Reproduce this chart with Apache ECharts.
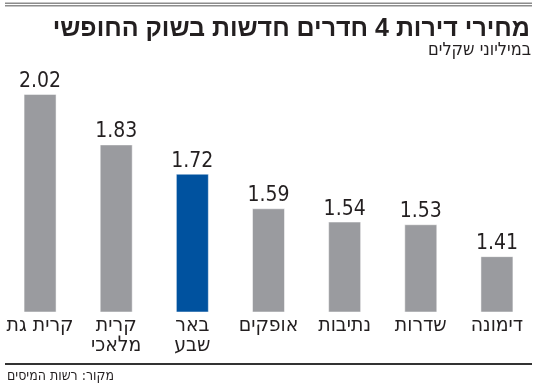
<!DOCTYPE html>
<html>
<head>
<meta charset="utf-8">
<script src="https://cdn.jsdelivr.net/npm/echarts@6/dist/echarts.min.js"></script>
<style>
html,body{margin:0;padding:0;background:#fff;}
#chart{width:550px;height:391px;}
</style>
</head>
<body>
<div id="chart"></div>
<script>
var categories = ['קרית גת', 'קרית\nמלאכי', 'באר\nשבע', 'אופקים', 'נתיבות', 'שדרות', 'דימונה'];
var values = [2.02, 1.83, 1.72, 1.59, 1.54, 1.53, 1.41];
var highlightIndex = 2;
var titleText = 'מחירי דירות 4 חדרים חדשות בשוק החופשי';
var subtitleText = 'במיליוני שקלים';
var sourceText = 'מקור: רשות המיסים';

var NARROW = "'Liberation Sans Narrow', 'DejaVu Sans Condensed', sans-serif";
var GRAY = '#9a9b9f';
var BLUE = '#00529f';
var INK = '#231f20';

var chart = echarts.init(document.getElementById('chart'), null, {renderer: 'canvas'});
chart.setOption({
  animation: false,
  backgroundColor: '#fff',
  grid: {left: 2, right: 15, top: 46, bottom: 79, containLabel: false},
  xAxis: {
    type: 'category',
    data: categories,
    axisLine: {show: false},
    axisTick: {show: false},
    axisLabel: {
      interval: 0, margin: 4, color: INK,
      fontFamily: NARROW, fontSize: 21, lineHeight: 20, verticalAlign: 'top'
    }
  },
  yAxis: {
    type: 'value', min: 1.2, max: 2.2, show: false,
    splitLine: {show: false}
  },
  series: [{
    type: 'bar',
    barWidth: 33,
    data: values.map(function (v, i) {
      return {value: v, itemStyle: {color: i === highlightIndex ? BLUE : GRAY}};
    }),
    itemStyle: {borderColor: 'rgba(255,255,255,0.5)', borderWidth: 1},
    label: {
      show: true, position: 'top', distance: 2, color: INK,
      fontFamily: NARROW, fontSize: 21,
      formatter: function (p) { return p.value.toFixed(2); }
    }
  }],
  graphic: [
    {type: 'rect', shape: {x: 5, y: 2.5, width: 527, height: 1.5}, style: {fill: '#8c8c8c'}},
    {type: 'rect', shape: {x: 5, y: 5, width: 527, height: 1.5}, style: {fill: '#8c8c8c'}},
    {type: 'text', x: 530, y: 29, style: {text: titleText, fill: INK, font: "bold 25px 'Liberation Sans', sans-serif", textAlign: 'right', textVerticalAlign: 'middle'}},
    {type: 'text', x: 531, y: 50, style: {text: subtitleText, fill: INK, font: "18px " + NARROW, textAlign: 'right', textVerticalAlign: 'middle'}},
    {type: 'rect', shape: {x: 5, y: 363, width: 527, height: 2}, style: {fill: '#333333'}},
    {type: 'text', x: 7, y: 376, style: {text: sourceText, fill: INK, font: "14px " + NARROW, textAlign: 'left', textVerticalAlign: 'middle'}}
  ]
});
</script>
</body>
</html>
